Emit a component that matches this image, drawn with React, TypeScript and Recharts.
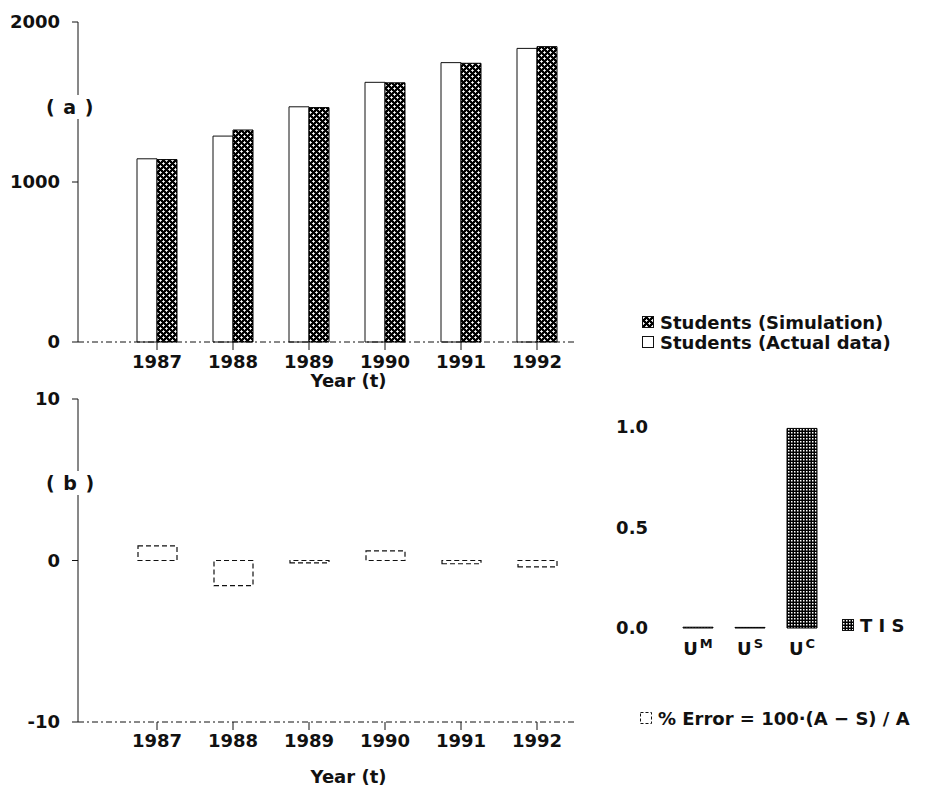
import { Bar, BarChart, Label, XAxis, YAxis } from "recharts";

const YEARS = ["1987", "1988", "1989", "1990", "1991", "1992"];
const STUDENTS_ACTUAL = [1145, 1287, 1470, 1623, 1746, 1835];
const STUDENTS_SIM = [1140, 1325, 1465, 1620, 1742, 1846];
const PCT_ERROR = [0.9, -1.55, -0.15, 0.6, -0.2, -0.4];
const TIS_PARTS = ["M", "S", "C"];
const TIS_VALUES = [0.004, 0.003, 0.993];

const STUDENT_TICKS = [0, 1000, 2000];
const ERROR_TICKS = [-10, 0, 10];
const TIS_TICKS = [0, 0.5, 1];

const FONT = "'DejaVu Sans', Verdana, sans-serif";
const INK = "#111";

const studentRows = YEARS.map((year, i) => ({
  year,
  actual: STUDENTS_ACTUAL[i],
  simulated: STUDENTS_SIM[i],
}));
const errorRows = YEARS.map((year, i) => ({ year, error: PCT_ERROR[i] }));
const tisRows = TIS_PARTS.map((part, i) => ({ part, value: TIS_VALUES[i] }));

const tickStyle = { fill: INK, fontSize: 18, fontFamily: FONT, fontWeight: "bold" };
const labelStyle = { fill: INK, fontSize: 18, fontFamily: FONT, fontWeight: "bold" };
const dashedAxis = { stroke: INK, strokeDasharray: "6 3 2 3" };

function CrossHatch({ id }: { id: string }) {
  return (
    <pattern id={id} width="6" height="6" patternUnits="userSpaceOnUse">
      <rect width="6" height="6" fill="#000" />
      <path
        d="M1.5 0.2v2.6M0.2 1.5h2.6M4.5 3.2v2.6M3.2 4.5h2.6"
        stroke="#fff"
        strokeWidth="1"
      />
    </pattern>
  );
}

function DotGrid({ id }: { id: string }) {
  return (
    <pattern id={id} width="3" height="3" patternUnits="userSpaceOnUse">
      <rect width="3" height="3" fill="#000" />
      <rect x="1" y="1" width="1.5" height="1.5" fill="#fff" />
    </pattern>
  );
}

function UTick(props: any) {
  const { x, y, payload } = props;
  return (
    <text
      x={x}
      y={y}
      dy="0.71em"
      textAnchor="middle"
      fill={INK}
      fontSize={18}
      fontWeight="bold"
      fontFamily={FONT}
    >
      U
      <tspan dy={-7} dx={2} fontSize={13}>
        {payload.value}
      </tspan>
    </text>
  );
}

function Swatch({ kind }: { kind: "hatch" | "plain" | "dots" | "dashed" }) {
  return (
    <svg width={12} height={12} style={{ marginRight: 6, flex: "none" }}>
      <defs>
        <CrossHatch id="swHatch" />
        <DotGrid id="swDots" />
      </defs>
      <rect
        x={0.5}
        y={0.5}
        width={11}
        height={11}
        fill={kind === "hatch" ? "url(#swHatch)" : kind === "dots" ? "url(#swDots)" : "#fff"}
        stroke={INK}
        strokeDasharray={kind === "dashed" ? "3 2" : undefined}
      />
    </svg>
  );
}

const row = { display: "flex", alignItems: "center", height: 20, whiteSpace: "nowrap" as const };

export default function App() {
  return (
    <div
      style={{
        position: "absolute",
        left: 0,
        top: 0,
        width: 934,
        height: 790,
        background: "#fff",
        fontFamily: FONT,
        fontWeight: "bold",
        color: INK,
        fontSize: 18,
      }}
    >
      {/* (a) students */}
      <div style={{ position: "absolute", left: 0, top: 0 }}>
        <BarChart
          width={600}
          height={395}
          data={studentRows}
          margin={{ top: 22, right: 25, bottom: 0, left: 0 }}
          barGap={0}
          barSize={20}
        >
          <defs>
            <CrossHatch id="crossHatch" />
          </defs>
          <XAxis
            dataKey="year"
            padding={{ left: 41, right: 0 }}
            height={53}
            tickSize={8}
            tickMargin={5}
            axisLine={dashedAxis}
            tickLine={{ stroke: INK }}
            tick={tickStyle}
            interval={0}
          >
            <Label value="Year (t)" position="insideBottom" offset={8} dx={22} style={labelStyle} />
          </XAxis>
          <YAxis
            width={78}
            domain={[0, 2000]}
            ticks={STUDENT_TICKS}
            tickSize={6}
            tickMargin={12}
            axisLine={{ stroke: INK }}
            tickLine={{ stroke: INK }}
            tick={tickStyle}
            interval={0}
          />
          <Bar
            dataKey="actual"
            name="Students (Actual data)"
            fill="#fff"
            stroke={INK}
            strokeWidth={1}
            isAnimationActive={false}
          />
          <Bar
            dataKey="simulated"
            name="Students (Simulation)"
            fill="url(#crossHatch)"
            stroke="#000"
            strokeWidth={1}
            isAnimationActive={false}
          />
        </BarChart>
      </div>

      {/* (b) percent error */}
      <div style={{ position: "absolute", left: 0, top: 380 }}>
        <BarChart
          width={600}
          height={410}
          data={errorRows}
          margin={{ top: 19, right: 25, bottom: 0, left: 0 }}
          barSize={39}
        >
          <XAxis
            dataKey="year"
            padding={{ left: 41, right: 0 }}
            height={68}
            tickSize={8}
            tickMargin={4}
            axisLine={dashedAxis}
            tickLine={{ stroke: INK }}
            tick={tickStyle}
            interval={0}
          >
            <Label value="Year (t)" position="insideBottom" offset={7} dx={22} style={labelStyle} />
          </XAxis>
          <YAxis
            width={78}
            domain={[-10, 10]}
            ticks={ERROR_TICKS}
            tickSize={6}
            tickMargin={12}
            axisLine={{ stroke: INK }}
            tickLine={{ stroke: INK }}
            tick={tickStyle}
            interval={0}
          />
          <Bar
            dataKey="error"
            name="% Error"
            fill="#fff"
            stroke={INK}
            strokeWidth={1.2}
            strokeDasharray="5 3"
            isAnimationActive={false}
          />
        </BarChart>
      </div>

      {/* Theil inequality statistics */}
      <div style={{ position: "absolute", left: 580, top: 380 }}>
        <BarChart
          width={354}
          height={300}
          data={tisRows}
          margin={{ top: 47, right: 106, bottom: 0, left: 0 }}
          barSize={30}
        >
          <defs>
            <DotGrid id="dotGrid" />
          </defs>
          <XAxis
            dataKey="part"
            height={52}
            axisLine={false}
            tickLine={false}
            tickSize={0}
            tickMargin={14}
            tick={<UTick />}
            interval={0}
          />
          <YAxis
            width={92}
            domain={[0, 1]}
            ticks={TIS_TICKS}
            tickFormatter={(v: number) => v.toFixed(1)}
            axisLine={false}
            tickLine={false}
            tickSize={0}
            tickMargin={24}
            tick={tickStyle}
            interval={0}
          />
          <Bar
            dataKey="value"
            name="TIS"
            fill="url(#dotGrid)"
            stroke="#000"
            strokeWidth={1}
            isAnimationActive={false}
          />
        </BarChart>
      </div>

      {/* panel labels */}
      <div style={{ position: "absolute", left: 46, top: 95, background: "#fff", fontSize: 19, letterSpacing: 1, lineHeight: "24px" }}>
        ( a )
      </div>
      <div style={{ position: "absolute", left: 46, top: 471, background: "#fff", fontSize: 19, letterSpacing: 1, lineHeight: "24px" }}>
        ( b )
      </div>

      {/* legends */}
      <div style={{ position: "absolute", left: 642, top: 312 }}>
        <div style={row}>
          <Swatch kind="hatch" />
          Students (Simulation)
        </div>
        <div style={row}>
          <Swatch kind="plain" />
          Students (Actual data)
        </div>
      </div>
      <div style={{ position: "absolute", left: 842, top: 615 }}>
        <div style={row}>
          <Swatch kind="dots" />
          T I S
        </div>
      </div>
      <div style={{ position: "absolute", left: 640, top: 708 }}>
        <div style={row}>
          <Swatch kind="dashed" />
          % Error = 100·(A − S) / A
        </div>
      </div>
    </div>
  );
}
